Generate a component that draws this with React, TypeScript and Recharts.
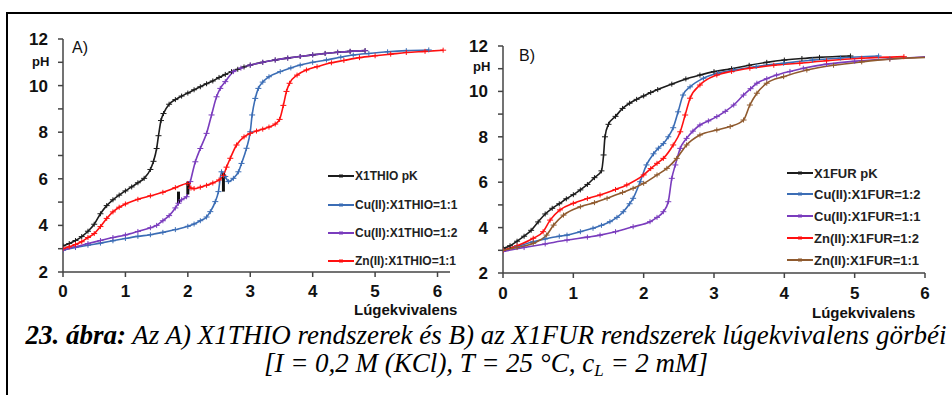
import React from "react";
import { LineChart, Line, XAxis, YAxis, ReferenceLine } from "recharts";

type Pt = [number, number];

// x = lúgekvivalens, y = pH
const xTicksA = [0, 1, 2, 3, 4, 5, 6];
const xTicksB = [0, 1, 2, 3, 4, 5, 6];
const pHTicks = [2, 3, 4, 5, 6, 7, 8, 9, 10, 11, 12];

// A) X1THIO
const thioPk: Pt[] = [
  [0, 3.12], [0.1, 3.22], [0.2, 3.35], [0.3, 3.52], [0.4, 3.75], [0.5, 4.05],
  [0.6, 4.5], [0.7, 4.85], [0.8, 5.1], [0.9, 5.3], [1.0, 5.48], [1.1, 5.65],
  [1.2, 5.83], [1.3, 6.02], [1.4, 6.4], [1.45, 6.75], [1.5, 7.3], [1.53, 7.85],
  [1.57, 8.5], [1.61, 8.8], [1.7, 9.2], [1.8, 9.4], [1.9, 9.55], [2.0, 9.68],
  [2.1, 9.82], [2.2, 9.95], [2.3, 10.08], [2.4, 10.2], [2.5, 10.35], [2.6, 10.48],
  [2.7, 10.6], [2.8, 10.7], [2.9, 10.8], [3.0, 10.88], [3.2, 11.0], [3.4, 11.1],
  [3.6, 11.18], [3.8, 11.25], [4.0, 11.32], [4.2, 11.38], [4.4, 11.43],
  [4.6, 11.47], [4.84, 11.5],
];
const thioCu11: Pt[] = [
  [0, 2.94], [0.2, 3.05], [0.4, 3.15], [0.6, 3.24], [0.8, 3.34], [1.0, 3.44],
  [1.2, 3.53], [1.4, 3.6], [1.6, 3.7], [1.8, 3.82], [2.0, 3.96], [2.1, 4.06],
  [2.2, 4.2], [2.3, 4.36], [2.36, 4.59], [2.44, 5.02], [2.49, 5.45], [2.54, 6.3],
  [2.6, 6.1], [2.65, 5.88], [2.73, 6.02], [2.81, 6.3], [2.86, 6.66], [2.94, 7.31],
  [3.0, 8.02], [3.03, 8.74], [3.08, 9.45], [3.13, 9.88], [3.2, 10.15], [3.3, 10.38],
  [3.48, 10.6], [3.65, 10.76], [3.8, 10.88], [4.0, 11.0], [4.22, 11.1],
  [4.45, 11.22], [4.65, 11.31], [4.9, 11.38], [5.2, 11.45], [5.5, 11.5], [5.86, 11.53],
];
const thioCu12: Pt[] = [
  [0, 2.95], [0.2, 3.08], [0.4, 3.22], [0.6, 3.35], [0.8, 3.48], [1.0, 3.59],
  [1.2, 3.74], [1.4, 3.9], [1.5, 4.0], [1.6, 4.2], [1.7, 4.42], [1.8, 4.75],
  [1.85, 4.95], [1.9, 5.1], [1.98, 5.23], [2.04, 5.88], [2.12, 6.73], [2.2, 7.3],
  [2.3, 7.95], [2.38, 8.74], [2.46, 9.52], [2.52, 9.88], [2.6, 10.17], [2.73, 10.6],
  [2.85, 10.75], [3.0, 10.88], [3.2, 11.0], [3.4, 11.1], [3.6, 11.18], [3.8, 11.25],
  [4.0, 11.32], [4.2, 11.38], [4.4, 11.43], [4.6, 11.47], [4.84, 11.5],
];
const thioZn11: Pt[] = [
  [0, 3.0], [0.1, 3.08], [0.2, 3.18], [0.3, 3.3], [0.4, 3.48], [0.5, 3.65],
  [0.6, 3.95], [0.7, 4.3], [0.8, 4.58], [0.9, 4.78], [1.0, 4.92], [1.2, 5.12],
  [1.4, 5.27], [1.6, 5.42], [1.8, 5.62], [2.0, 5.8], [2.05, 5.6], [2.1, 5.58],
  [2.2, 5.64], [2.3, 5.72], [2.4, 5.82], [2.5, 5.95], [2.57, 6.15], [2.62, 6.5],
  [2.68, 6.88], [2.78, 7.45], [2.9, 7.8], [3.0, 7.95], [3.1, 8.05], [3.2, 8.13],
  [3.3, 8.22], [3.4, 8.35], [3.47, 8.55], [3.53, 9.15], [3.58, 9.75], [3.63, 10.1],
  [3.75, 10.45], [3.9, 10.67], [4.07, 10.81], [4.3, 10.98], [4.5, 11.08],
  [4.75, 11.2], [5.0, 11.28], [5.25, 11.35], [5.5, 11.42], [5.8, 11.47], [6.09, 11.52],
];
// black vertical bars in panel A: [x, pH low, pH high]
const thioBars: [number, number, number][] = [
  [1.85, 4.95, 5.45],
  [2.0, 5.33, 5.88],
  [2.57, 5.45, 6.24],
];

// B) X1FUR
const furPk: Pt[] = [
  [0, 3.09], [0.1, 3.2], [0.2, 3.4], [0.3, 3.62], [0.4, 3.88], [0.5, 4.25],
  [0.6, 4.6], [0.7, 4.85], [0.8, 5.05], [0.9, 5.27], [1.0, 5.45], [1.1, 5.66],
  [1.2, 5.9], [1.3, 6.2], [1.4, 6.5], [1.43, 7.2], [1.45, 8.0], [1.5, 8.55],
  [1.6, 8.9], [1.7, 9.25], [1.8, 9.48], [1.9, 9.65], [2.0, 9.8], [2.1, 9.95],
  [2.2, 10.08], [2.4, 10.32], [2.6, 10.55], [2.8, 10.72], [3.0, 10.87],
  [3.25, 11.0], [3.5, 11.15], [3.75, 11.28], [4.0, 11.38], [4.25, 11.45],
  [4.5, 11.5], [4.94, 11.56],
];
const furCu12: Pt[] = [
  [0, 3.0], [0.2, 3.17], [0.43, 3.38], [0.6, 3.5], [0.8, 3.62], [0.91, 3.67],
  [1.1, 3.82], [1.28, 3.97], [1.4, 4.1], [1.52, 4.26], [1.62, 4.45], [1.71, 4.7],
  [1.8, 5.05], [1.85, 5.29], [1.95, 6.02], [2.04, 6.76], [2.14, 7.25], [2.21, 7.5],
  [2.28, 7.7], [2.35, 8.0], [2.42, 8.4], [2.49, 9.1], [2.56, 9.84], [2.66, 10.2],
  [2.85, 10.58], [3.05, 10.8], [3.28, 10.94], [3.6, 11.1], [3.99, 11.24],
  [4.4, 11.38], [4.8, 11.47], [5.34, 11.56],
];
const furCu11: Pt[] = [
  [0, 2.95], [0.3, 3.12], [0.6, 3.28], [0.91, 3.45], [1.2, 3.58], [1.38, 3.67],
  [1.6, 3.82], [1.85, 4.04], [2.09, 4.26], [2.19, 4.45], [2.28, 4.7], [2.35, 5.14],
  [2.4, 6.17], [2.45, 6.76], [2.52, 7.49], [2.61, 7.93], [2.7, 8.25], [2.8, 8.52],
  [2.92, 8.7], [3.04, 8.89], [3.16, 9.12], [3.28, 9.4], [3.42, 9.84], [3.52, 10.12],
  [3.61, 10.36], [3.75, 10.56], [3.89, 10.72], [4.08, 10.88], [4.27, 11.02],
  [4.6, 11.2], [5.0, 11.33], [5.5, 11.43], [6.03, 11.53],
];
const furZn12: Pt[] = [
  [0, 3.0], [0.2, 3.2], [0.43, 3.53], [0.57, 3.82], [0.67, 4.33], [0.81, 4.78],
  [1.0, 5.07], [1.2, 5.28], [1.38, 5.44], [1.6, 5.68], [1.76, 5.88], [2.0, 6.32],
  [2.1, 6.6], [2.19, 6.83], [2.28, 7.05], [2.42, 7.64], [2.52, 8.22], [2.59, 8.96],
  [2.66, 9.7], [2.8, 10.28], [3.04, 10.72], [3.25, 10.88], [3.51, 11.02],
  [3.85, 11.15], [4.22, 11.24], [4.6, 11.35], [5.1, 11.46], [5.7, 11.53],
];
const furZn11: Pt[] = [
  [0, 3.0], [0.2, 3.12], [0.43, 3.31], [0.62, 3.67], [0.72, 4.11], [0.86, 4.55],
  [1.1, 4.92], [1.3, 5.1], [1.48, 5.29], [1.7, 5.55], [1.85, 5.73], [2.0, 5.95],
  [2.19, 6.32], [2.33, 6.61], [2.47, 7.05], [2.61, 7.64], [2.8, 8.08], [3.04, 8.3],
  [3.23, 8.45], [3.42, 8.74], [3.51, 9.4], [3.61, 9.92], [3.75, 10.36],
  [3.99, 10.65], [4.32, 10.94], [4.7, 11.15], [5.1, 11.3], [5.5, 11.42], [6.03, 11.5],
];

const SANS = '"Liberation Sans", Arial, Helvetica, sans-serif';
const SERIF = '"Liberation Serif", "Times New Roman", serif';

const BLACK = "#1c1c1c";
const BLUE = "#3b6db5";
const PURPLE = "#7a3cbd";
const RED = "#ff1010";
const BROWN = "#8f5a2e";

type Series = { name: string; color: string; points: Pt[] };

const seriesA: Series[] = [
  { name: "X1THIO pK", color: BLACK, points: thioPk },
  { name: "Cu(II):X1THIO=1:1", color: BLUE, points: thioCu11 },
  { name: "Cu(II):X1THIO=1:2", color: PURPLE, points: thioCu12 },
  { name: "Zn(II):X1THIO=1:1", color: RED, points: thioZn11 },
];

const seriesB: Series[] = [
  { name: "X1FUR pK", color: BLACK, points: furPk },
  { name: "Cu(II):X1FUR=1:2", color: BLUE, points: furCu12 },
  { name: "Cu(II):X1FUR=1:1", color: PURPLE, points: furCu11 },
  { name: "Zn(II):X1FUR=1:2", color: RED, points: furZn12 },
  { name: "Zn(II):X1FUR=1:1", color: BROWN, points: furZn11 },
];

const toRows = (pts: Pt[]) => pts.map(([x, y]) => ({ x, y }));

function plusDot(color: string) {
  return (p: any) => {
    if (p.cx == null || p.cy == null) return <g key={p.index} />;
    return (
      <path
        key={p.index}
        d={`M${p.cx - 3},${p.cy}h6M${p.cx},${p.cy - 2.5}v5`}
        stroke={color}
        strokeWidth={1}
        fill="none"
      />
    );
  };
}

type PanelProps = {
  series: Series[];
  xMax: number;
  xTicks: number[];
  left: number;
  width: number;
  margin: { top: number; right: number; bottom: number; left: number };
  tickMarginX: number;
  bars?: [number, number, number][];
};

function Panel({ series, xMax, xTicks, left, width, margin, tickMarginX, bars }: PanelProps) {
  const tickStyle = { fontSize: 17, fontWeight: 700, fill: "#111", fontFamily: SANS };
  return (
    <div style={{ position: "absolute", left, top: 0 }}>
      <LineChart width={width} height={320} margin={margin}>
        <XAxis
          type="number"
          dataKey="x"
          domain={[0, xMax]}
          ticks={xTicks}
          allowDataOverflow
          height={30}
          tickSize={5}
          tickMargin={tickMarginX}
          stroke="#444"
          strokeWidth={1.5}
          tick={tickStyle}
        />
        <YAxis
          type="number"
          dataKey="y"
          domain={[2, 12]}
          ticks={pHTicks}
          width={50}
          tickSize={5}
          tickMargin={10}
          stroke="#444"
          strokeWidth={1.5}
          tick={tickStyle}
          tickFormatter={(v: number) => (v % 2 === 0 ? String(v) : "")}
        />
        {series.map((s) => (
          <Line
            key={s.name}
            data={toRows(s.points)}
            dataKey="y"
            type="monotone"
            stroke={s.color}
            strokeWidth={1.6}
            dot={plusDot(s.color)}
            isAnimationActive={false}
          />
        ))}
        {(bars ?? []).map(([x, lo, hi], i) => (
          <ReferenceLine
            key={i}
            segment={[
              { x, y: lo },
              { x, y: hi },
            ]}
            stroke="#111"
            strokeWidth={3}
          />
        ))}
      </LineChart>
    </div>
  );
}

function LegendBox({ series, left, tops, fontSize }: { series: Series[]; left: number; tops: number[]; fontSize: number }) {
  return (
    <>
      {series.map((s, i) => (
        <div
          key={s.name}
          style={{
            position: "absolute",
            left,
            top: tops[i] - 10,
            height: 20,
            display: "flex",
            alignItems: "center",
            fontFamily: SANS,
            fontWeight: 700,
            fontSize,
            color: "#222",
            whiteSpace: "nowrap",
          }}
        >
          <svg width={26} height={6} style={{ marginRight: 1 }}>
            <line x1={0} y1={3} x2={26} y2={3} stroke={s.color} strokeWidth={2} />
            <line x1={11} y1={3} x2={15} y2={3} stroke={s.color} strokeWidth={3} />
          </svg>
          {s.name}
        </div>
      ))}
    </>
  );
}

const label = (text: string, left: number, top: number, size: number, bold = true): React.ReactNode => (
  <div
    style={{
      position: "absolute",
      left,
      top,
      fontFamily: SANS,
      fontSize: size,
      fontWeight: bold ? 700 : 400,
      color: "#111",
      lineHeight: 1,
      whiteSpace: "nowrap",
    }}
  >
    {text}
  </div>
);

export default function App() {
  return (
    <div
      style={{
        position: "absolute",
        left: 0,
        top: 0,
        width: 952,
        height: 395,
        background: "#fff",
        overflow: "hidden",
      }}
    >
      <div
        style={{
          position: "absolute",
          left: 6,
          top: 12,
          width: 960,
          height: 400,
          borderTop: "2px solid #000",
          borderLeft: "2px solid #000",
        }}
      />
      <Panel
        series={seriesA}
        xMax={6.2}
        xTicks={xTicksA}
        left={0}
        width={470}
        margin={{ top: 39, right: 20, bottom: 18, left: 13 }}
        tickMarginX={8}
        bars={thioBars}
      />
      <Panel
        series={seriesB}
        xMax={6}
        xTicks={xTicksB}
        left={450}
        width={502}
        margin={{ top: 46, right: 27, bottom: 17, left: 3 }}
        tickMarginX={9}
      />
      {label("A)", 72, 40, 16, false)}
      {label("B)", 519, 48, 16, false)}
      {label("pH", 32, 55, 13)}
      {label("pH", 473, 60, 13)}
      {label("Lúgekvivalens", 354, 302, 15)}
      {label("Lúgekvivalens", 812, 305, 15)}
      <LegendBox series={seriesA} left={328} tops={[176, 205, 233, 261]} fontSize={12} />
      <LegendBox series={seriesB} left={787} tops={[173, 194, 216, 238, 260]} fontSize={13} />
      <div
        style={{
          position: "absolute",
          left: 20,
          width: 932,
          top: 321,
          textAlign: "center",
          fontFamily: SERIF,
          fontStyle: "italic",
          fontSize: 27,
          lineHeight: "28px",
          color: "#000",
        }}
      >
        <div style={{ whiteSpace: "nowrap" }}>
          <b>23. ábra:</b> Az A) X1THIO rendszerek és B) az X1FUR rendszerek lúgekvivalens görbéi
        </div>
        <div>
          [I = 0,2 M (KCl), T = 25 °C, c<sub style={{ fontSize: 17, verticalAlign: "-4px", lineHeight: 0 }}>L</sub> = 2 mM]
        </div>
      </div>
    </div>
  );
}
